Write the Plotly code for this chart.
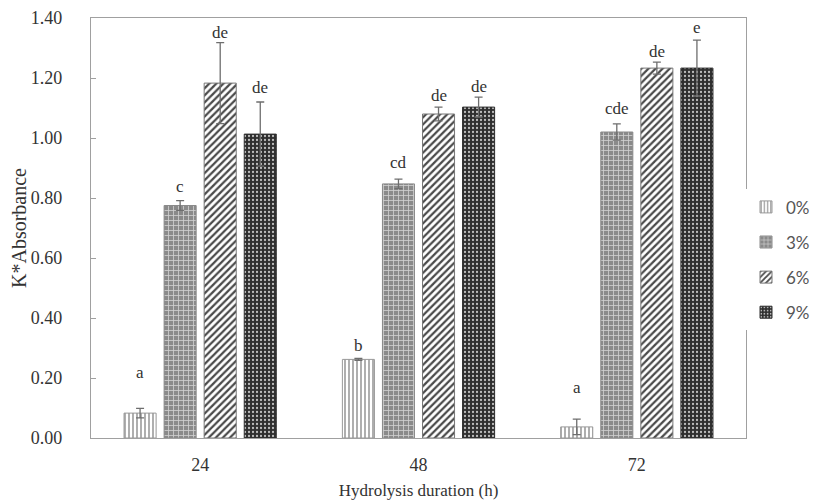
import plotly.graph_objects as go

durations = ["24", "48", "72"]
series_names = ["0%", "3%", "6%", "9%"]
values = {
    "0%": [0.083, 0.262, 0.037],
    "3%": [0.775, 0.847, 1.020],
    "6%": [1.183, 1.080, 1.233],
    "9%": [1.013, 1.103, 1.233],
}
errors = {
    "0%": [0.016, 0.003, 0.026],
    "3%": [0.016, 0.016, 0.027],
    "6%": [0.135, 0.023, 0.020],
    "9%": [0.107, 0.033, 0.093],
}
letters = {
    "0%": ["a", "b", "a"],
    "3%": ["c", "cd", "cde"],
    "6%": ["de", "de", "de"],
    "9%": ["de", "de", "e"],
}
letter_y = {
    "0%": [0.217, 0.310, 0.167],
    "3%": [0.837, 0.917, 1.100],
    "6%": [1.353, 1.143, 1.287],
    "9%": [1.170, 1.173, 1.370],
}
yticks = [0.0, 0.2, 0.4, 0.6, 0.8, 1.0, 1.2, 1.4]

styles = {
    "0%": dict(shape="|", fg="#8c8c8c", bg="#ffffff", size=4, solidity=0.35, line="#999999"),
    "3%": dict(shape="+", fg="#d0d0d0", bg="#8a8a8a", size=5, solidity=0.3, line="#8a8a8a"),
    "6%": dict(shape="/", fg="#4a4a4a", bg="#ffffff", size=5, solidity=0.45, line="#777777"),
    "9%": dict(shape=".", fg="#bdbdbd", bg="#2e2e2e", size=4, solidity=0.25, line="#2e2e2e"),
}

fig = go.Figure()
for name in series_names:
    s = styles[name]
    fig.add_trace(go.Bar(
        x=durations, y=values[name], name=name, legendgroup=name,
        marker=dict(
            color=s["bg"],
            line=dict(color=s["line"], width=1),
            pattern=dict(shape=s["shape"], fgcolor=s["fg"], bgcolor=s["bg"],
                         size=s["size"], solidity=s["solidity"], fillmode="replace"),
        ),
        error_y=dict(type="data", array=errors[name], visible=True,
                     color="#6e6e6e", thickness=1.3, width=4),
    ))

bargap = 0.266
slot = (1 - bargap) / 4
for j, name in enumerate(series_names):
    for i, d in enumerate(durations):
        fig.add_annotation(
            x=i + (j - 1.5) * slot, y=letter_y[name][i], text=letters[name][i],
            showarrow=False, xref="x", yref="y",
            font=dict(family="Liberation Serif", size=17, color="#333333"),
        )

fig.update_layout(
    width=822, height=502,
    margin=dict(l=83, r=84, t=10, b=72),
    barmode="group", bargap=bargap, bargroupgap=0.2,
    plot_bgcolor="white", paper_bgcolor="white",
    font=dict(family="Liberation Serif", size=14, color="#333333"),
    legend=dict(
        x=1.0, y=0.592, xanchor="left", yanchor="top",
        font=dict(family="Lato", size=17, color="#555555"),
        tracegroupgap=10, traceorder="grouped", itemwidth=30,
    ),
    xaxis=dict(
        type="category", showline=True, linecolor="#a0a0a0", linewidth=1.3,
        mirror=True, ticks="", tickfont=dict(size=18, color="#333333"),
        ticklabelstandoff=10,
        title=dict(text="Hydrolysis duration (h)", font=dict(size=17, color="#333333"), standoff=10),
        range=[-0.5, 2.5], automargin=False,
    ),
    yaxis=dict(
        range=[0, 1.4], tickvals=yticks, tickformat=".2f",
        showline=True, linecolor="#a0a0a0", linewidth=1.3, mirror=True,
        ticks="inside", ticklen=5, tickcolor="#a0a0a0", showgrid=False,
        tickfont=dict(size=18, color="#333333"), ticklabelstandoff=24,
        title=dict(text="K*Absorbance", font=dict(size=20, color="#333333"), standoff=6),
        zeroline=False, automargin=False,
    ),
)

fig.write_html("out.html")
